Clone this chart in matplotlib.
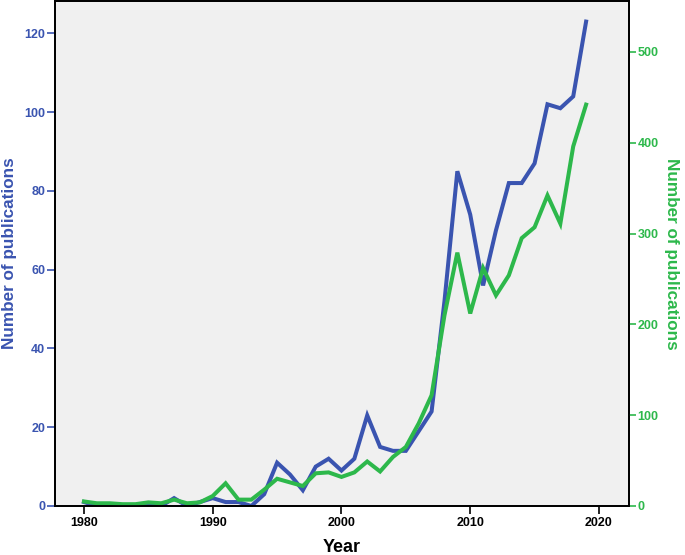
import matplotlib
matplotlib.use('Agg')
import matplotlib.pyplot as plt

plt.rcParams['font.family'] = ['Liberation Sans', 'DejaVu Sans']
plt.rcParams['font.weight'] = 'bold'

########################
# Data
########################
years = list(range(1980, 2020))

# left axis (blue)
blue_pubs = [1, 0, 0, 0, 0, 0, 0, 2, 0, 1,
             2, 1, 1, 0, 3, 11, 8, 4, 10, 12,
             9, 12, 23, 15, 14, 14, 19, 24, 52, 85,
             74, 56, 70, 82, 82, 87, 102, 101, 104, 123]

# right axis (green)
green_pubs = [5, 3, 3, 2, 2, 4, 3, 7, 3, 4,
              11, 25, 7, 7, 18, 30, 26, 22, 36, 37,
              32, 37, 49, 38, 54, 65, 91, 122, 210, 279,
              212, 262, 232, 254, 295, 307, 342, 311, 396, 442]

blue = '#3A54B0'
green = '#2DB84B'

########################
# Figure
########################
fig = plt.figure(figsize=(6.85, 5.55), dpi=100)
ax = fig.add_axes([0.0803, 0.0883, 0.8379, 0.9097])
ax.set_facecolor('#f0f0f0')

ax.plot(years, blue_pubs, color=blue, linewidth=2.9, solid_joinstyle='miter')
ax.set_xlim(1977.75, 2022.33)
ax.set_ylim(0, 128.2)
ax.set_yticks([0, 20, 40, 60, 80, 100, 120])
ax.set_xticks([1980, 1990, 2000, 2010, 2020])
ax.tick_params(axis='y', colors=blue, length=6, width=1.2, pad=1, labelsize=9)
ax.tick_params(axis='x', colors='black', length=6, width=1.2, pad=2, labelsize=9)
ax.set_xlabel('Year', fontsize=13, fontweight='bold', labelpad=7)
ax.set_ylabel('Number of publications', fontsize=12.3, fontweight='bold', color=blue, labelpad=5)

########################
# Second axis
########################
ax2 = ax.twinx()
ax2.plot(years, green_pubs, color=green, linewidth=2.9, solid_joinstyle='miter')
ax2.set_ylim(0, 556)
ax2.set_yticks([0, 100, 200, 300, 400, 500])
ax2.tick_params(axis='y', colors=green, length=5, width=1.2, pad=1, labelsize=9)
ax2.set_ylabel('Number of publications', fontsize=12.3, fontweight='bold', color=green,
               rotation=270, labelpad=15)

for a in (ax, ax2):
    for s in a.spines.values():
        s.set_linewidth(1.3)
        s.set_color('black')

plt.savefig('out.png', dpi=100)
